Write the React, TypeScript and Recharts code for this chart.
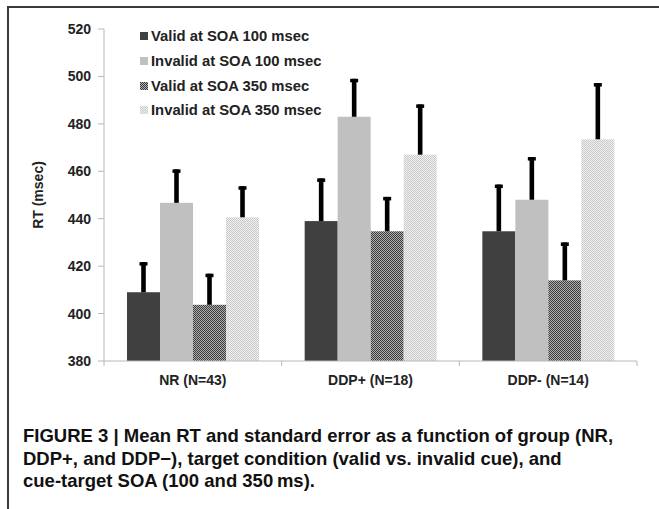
import { BarChart, Bar, XAxis, YAxis, Legend } from 'recharts';

const groups = ['NR (N=43)', 'DDP+ (N=18)', 'DDP- (N=14)'];

const valid100 = [409, 439, 434.7];
const invalid100 = [446.7, 483, 448];
const valid350 = [403.7, 434.7, 414];
const invalid350 = [440.6, 467, 473.5];

const valid100Err = [12.7, 18, 19.7];
const invalid100Err = [14.1, 16, 18];
const valid350Err = [13.1, 14.5, 16];
const invalid350Err = [13.1, 21.2, 23.7];

const yTicks = [380, 400, 420, 440, 460, 480, 500, 520];

const series = [
  { key: 'valid100', err: 'valid100Err', name: 'Valid at SOA 100 msec', fill: '#404040' },
  { key: 'invalid100', err: 'invalid100Err', name: 'Invalid at SOA 100 msec', fill: '#c0c0c0' },
  { key: 'valid350', err: 'valid350Err', name: 'Valid at SOA 350 msec', fill: 'url(#checkDark)' },
  { key: 'invalid350', err: 'invalid350Err', name: 'Invalid at SOA 350 msec', fill: 'url(#checkLight)' },
];

const data = groups.map((group, i) => ({
  group,
  valid100: valid100[i],
  invalid100: invalid100[i],
  valid350: valid350[i],
  invalid350: invalid350[i],
  valid100Err: valid100Err[i],
  invalid100Err: invalid100Err[i],
  valid350Err: valid350Err[i],
  invalid350Err: invalid350Err[i],
}));

const Y_MIN = 380;
const FONT = '"Liberation Sans", Arial, sans-serif';

// bar + one-sided (upward) error bar, length taken from the bar's own px/unit
const barWithError = (valueKey: string, errKey: string) => (props: any) => {
  const { x, y, width, height, fill, payload } = props;
  const v = payload[valueKey];
  const pxPerUnit = height / (v - Y_MIN);
  const errPx = payload[errKey] * pxPerUnit;
  const cx = x + width / 2;
  return (
    <g>
      <rect x={x} y={y} width={width} height={height} fill={fill} />
      <rect x={cx - 2.3} y={y - errPx} width={4.6} height={errPx} fill="#000" />
      <rect x={cx - 4} y={y - errPx} width={8} height={3.5} fill="#000" />
    </g>
  );
};

const CategoryTick = (props: any) => {
  const { x, y, payload, visibleTicksCount } = props;
  const off = payload.offset ?? 0;
  const last = payload.index === visibleTicksCount - 1;
  return (
    <g>
      <line x1={x - off} x2={x - off} y1={y - 5} y2={y} stroke="#b8b8b8" />
      {last && <line x1={x + off} x2={x + off} y1={y - 5} y2={y} stroke="#b8b8b8" />}
      <text
        x={x}
        y={y + 19}
        textAnchor="middle"
        fontSize={14}
        fontWeight="bold"
        fill="#222"
        fontFamily={FONT}
      >
        {payload.value}
      </text>
    </g>
  );
};

const LegendBox = (props: any) => {
  const items = [...(props.payload || [])].sort(
    (a: any, b: any) =>
      series.findIndex((s) => s.name === a.value) - series.findIndex((s) => s.name === b.value)
  );
  return (
    <div style={{ fontFamily: FONT }}>
      {items.map((p: any) => (
        <div key={p.value} style={{ height: 24.7, display: 'flex', alignItems: 'center' }}>
          <svg width={8} height={8} style={{ marginRight: 3 }}>
            <rect width={8} height={8} fill={p.color} />
          </svg>
          <span style={{ fontSize: 14.8, fontWeight: 'bold', color: '#222', whiteSpace: 'nowrap' }}>
            {p.value}
          </span>
        </div>
      ))}
    </div>
  );
};

export default function App() {
  return (
    <div style={{ position: 'absolute', left: 0, top: 0, width: 659, height: 509, background: '#fff', overflow: 'hidden' }}>
      <div
        style={{
          position: 'absolute',
          left: 7,
          top: 6,
          width: 660,
          height: 510,
          borderTop: '2px solid #3a3a3a',
          borderLeft: '2px solid #3a3a3a',
        }}
      />
      <div style={{ position: 'absolute', left: 0, top: 0 }}>
        <BarChart
          width={659}
          height={400}
          data={data}
          margin={{ top: 29, right: 22, left: 0, bottom: 0 }}
          barCategoryGap={23}
          barGap={0}
        >
          <defs>
            <pattern id="checkDark" width={2} height={2} patternUnits="userSpaceOnUse">
              <rect width={2} height={2} fill="#b0b0b0" />
              <rect x={0} y={0} width={1} height={1} fill="#3a3a3a" />
              <rect x={1} y={1} width={1} height={1} fill="#3a3a3a" />
            </pattern>
            <pattern id="checkLight" width={2} height={2} patternUnits="userSpaceOnUse">
              <rect width={2} height={2} fill="#f2f2f2" />
              <rect x={0} y={0} width={1} height={1} fill="#c8c8c8" />
              <rect x={1} y={1} width={1} height={1} fill="#c8c8c8" />
            </pattern>
          </defs>
          <XAxis
            dataKey="group"
            height={39}
            axisLine={{ stroke: '#b8b8b8' }}
            tickLine={false}
            tickSize={5}
            tickMargin={0}
            tick={<CategoryTick />}
            interval={0}
          />
          <YAxis
            domain={[Y_MIN, 520]}
            ticks={yTicks}
            width={104}
            axisLine={{ stroke: '#b8b8b8' }}
            tickLine={{ stroke: '#b8b8b8' }}
            tickSize={6}
            tickMargin={7}
            tick={{ fontSize: 14, fontWeight: 'bold', fill: '#222', fontFamily: FONT }}
            label={{
              value: 'RT (msec)',
              content: (p: any) => {
                const vb = p.viewBox;
                const cx = vb.x + 38;
                const cy = vb.y + vb.height / 2;
                return (
                  <text
                    x={cx}
                    y={cy}
                    transform={`rotate(-90 ${cx} ${cy})`}
                    textAnchor="middle"
                    dominantBaseline="central"
                    fontSize={14}
                    fontWeight="bold"
                    fill="#222"
                    fontFamily={FONT}
                  >
                    RT (msec)
                  </text>
                );
              },
            }}
          />
          <Legend
            layout="vertical"
            align="center"
            verticalAlign="middle"
            content={<LegendBox />}
            wrapperStyle={{ left: 140, top: 24, width: 'auto', height: 'auto' }}
          />
          {series.map((s) => (
            <Bar
              key={s.key}
              dataKey={s.key}
              name={s.name}
              fill={s.fill}
              isAnimationActive={false}
              shape={barWithError(s.key, s.err)}
            />
          ))}
        </BarChart>
      </div>
      <div
        style={{
          position: 'absolute',
          left: 23,
          top: 425,
          fontFamily: FONT,
          fontWeight: 'bold',
          fontSize: 18.5,
          lineHeight: '22.5px',
          color: '#111',
          whiteSpace: 'nowrap',
        }}
      >
        FIGURE 3 | Mean RT and standard error as a function of group (NR,
        <br />
        DDP+, and DDP−), target condition (valid vs. invalid cue), and
        <br />
        cue-target SOA (100 and 350{'\u2009'}ms).
      </div>
    </div>
  );
}
